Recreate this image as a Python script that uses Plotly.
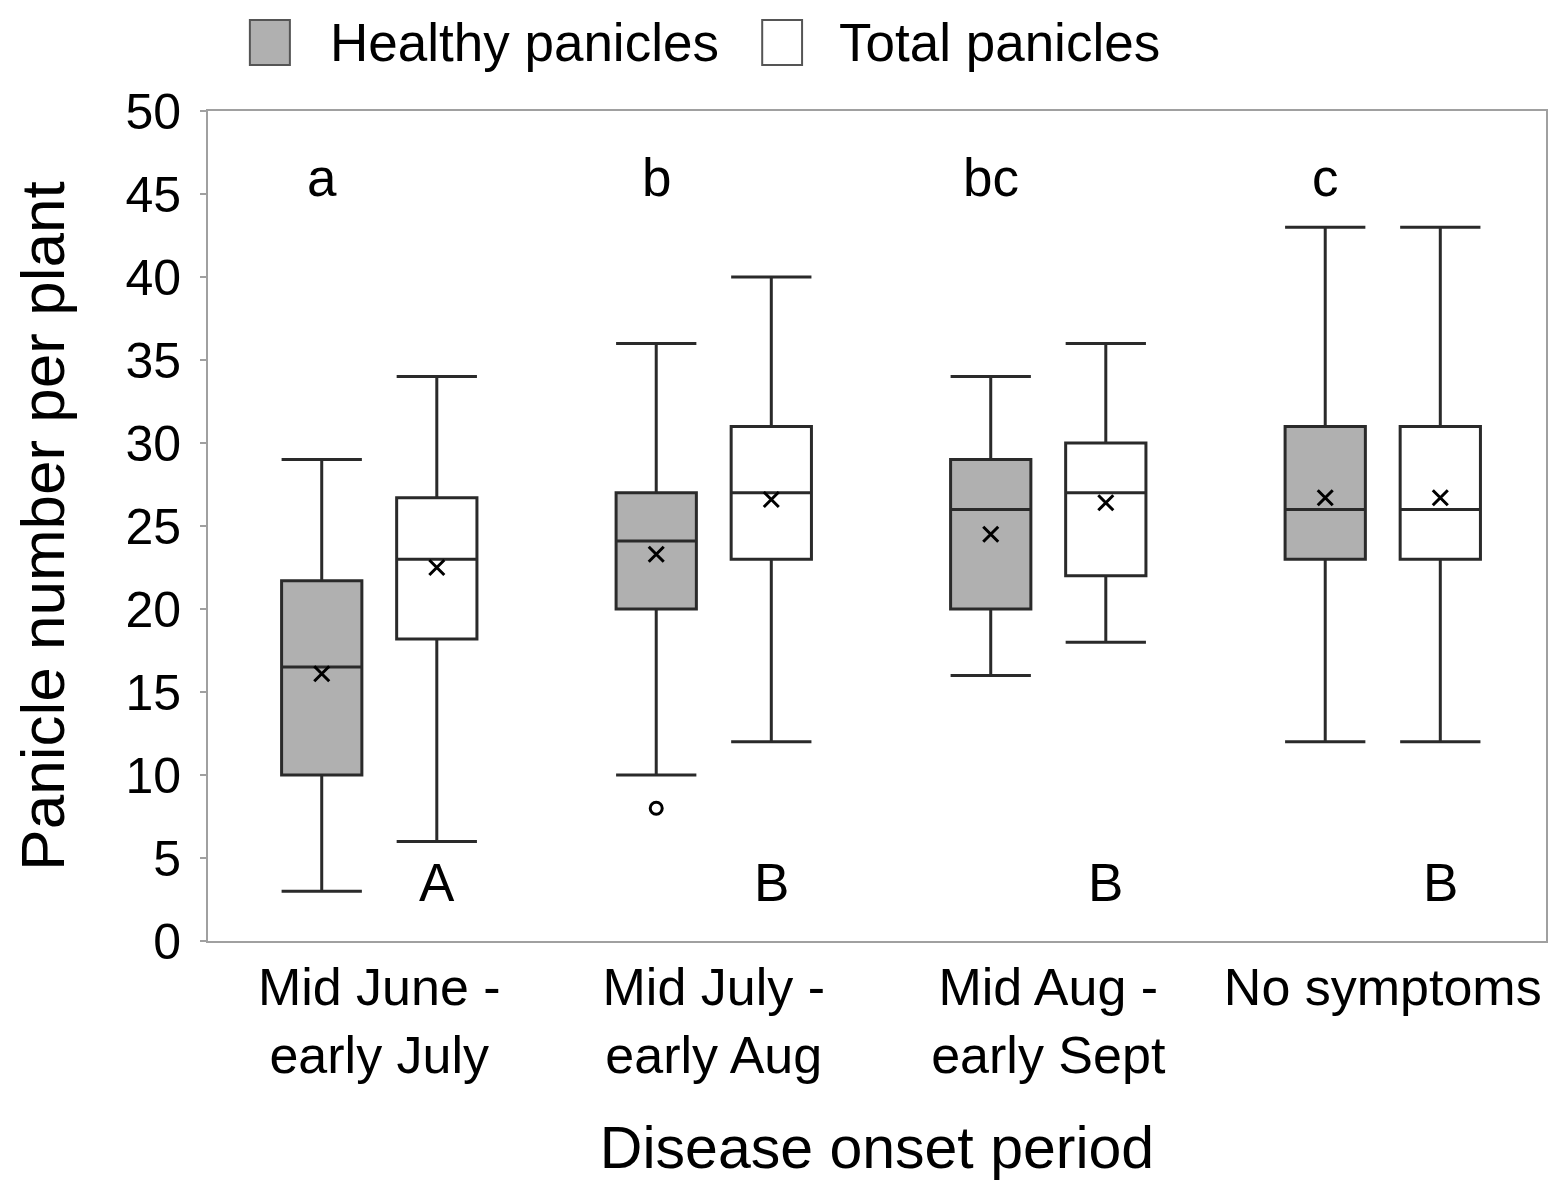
import plotly.graph_objects as go

categories = ["Mid June -<br>early July", "Mid July -<br>early Aug", "Mid Aug -<br>early Sept", "No symptoms"]
series_names = ["Healthy panicles", "Total panicles"]

# Healthy panicles
h_low = [3, 10, 16, 12]
h_q1 = [10, 20, 20, 23]
h_med = [16.5, 24.1, 26, 26]
h_q3 = [21.7, 27, 29, 31]
h_up = [29, 36, 34, 43]
h_mean = [16.1, 23.3, 24.5, 26.7]
h_outlier_cat = [1]
h_outlier_val = [8]

# Total panicles
t_low = [6, 12, 18, 12]
t_q1 = [18.2, 23, 22, 23]
t_med = [23, 27, 27, 26]
t_q3 = [26.7, 31, 30, 31]
t_up = [34, 40, 36, 43]
t_mean = [22.5, 26.6, 26.4, 26.7]

upper_letters = ["a", "b", "bc", "c"]
lower_letters = ["A", "B", "B", "B"]
y_ticks = [0, 5, 10, 15, 20, 25, 30, 35, 40, 45, 50]

OFF = 0.172
W = 0.24
idx = list(range(len(categories)))
hx = [i - OFF for i in idx]
tx = [i + OFF for i in idx]

FONT = "Liberation Sans, Arial, Helvetica, sans-serif"
HFILL = "#b0b0b0"
LINE = "#2a2a2a"

fig = go.Figure()
fig.add_trace(go.Box(
    name=series_names[0], x=hx, q1=h_q1, median=h_med, q3=h_q3,
    lowerfence=h_low, upperfence=h_up, width=W, whiskerwidth=1,
    fillcolor=HFILL, line=dict(color=LINE, width=3),
    boxpoints=False, showlegend=False,
))
fig.add_trace(go.Box(
    name=series_names[1], x=tx, q1=t_q1, median=t_med, q3=t_q3,
    lowerfence=t_low, upperfence=t_up, width=W, whiskerwidth=1,
    fillcolor="white", line=dict(color=LINE, width=3),
    boxpoints=False, showlegend=False,
))
fig.add_trace(go.Scatter(
    x=hx + tx, y=h_mean + t_mean, mode="markers",
    marker=dict(symbol="x-thin-open", size=15, color="black", line=dict(color="black", width=3)),
    showlegend=False, hoverinfo="skip",
))
fig.add_trace(go.Scatter(
    x=[i - OFF for i in h_outlier_cat], y=h_outlier_val, mode="markers",
    marker=dict(symbol="circle-open", size=12, color="black", line=dict(color="black", width=3)),
    showlegend=False, hoverinfo="skip",
))

for i, s in enumerate(upper_letters):
    fig.add_annotation(x=i - OFF, y=46, text=s, showarrow=False,
                       font=dict(size=53, color="black", family=FONT))
for i, s in enumerate(lower_letters):
    fig.add_annotation(x=i + OFF, y=3.5, text=s, showarrow=False,
                       font=dict(size=53, color="black", family=FONT))

# custom legend (swatches + labels) above the plot area
leg_items = [
    (0.0313, 0.0612, 0.0896, HFILL, series_names[0]),
    (0.4142, 0.4440, 0.4701, "white", series_names[1]),
]
for x0, x1, xt, fc, label in leg_items:
    fig.add_shape(type="rect", xref="paper", yref="paper", x0=x0, x1=x1,
                  y0=1.0554, y1=1.1096, fillcolor=fc,
                  line=dict(color="#555555", width=2))
    fig.add_annotation(xref="paper", yref="paper", x=xt, y=1.0831, xanchor="left",
                       yanchor="middle", text=label, showarrow=False,
                       font=dict(size=53, color="black", family=FONT))

fig.update_layout(
    width=1551, height=1175,
    margin=dict(l=200, r=11, t=103, b=242),
    paper_bgcolor="white", plot_bgcolor="white",
    font=dict(family=FONT, size=50, color="black"),
    showlegend=False,
    xaxis=dict(
        range=[-0.512, 3.488], tickmode="array", tickvals=idx, ticktext=categories,
        showgrid=False, zeroline=False, showline=True, mirror=True,
        linecolor="#a0a0a0", linewidth=2, ticks="",
        tickfont=dict(size=52),
        title=dict(text="Disease onset period", font=dict(size=59), standoff=44),
    ),
    yaxis=dict(
        range=[0, 50], tickvals=y_ticks,
        showgrid=False, zeroline=False, showline=True, mirror=True,
        linecolor="#a0a0a0", linewidth=2, ticks="outside", ticklen=6,
        tickcolor="#a0a0a0", tickwidth=2, tickfont=dict(size=50),
        ticklabelstandoff=9,
        title=dict(text="Panicle number per plant", font=dict(size=62), standoff=50),
    ),
)

fig.write_html("out.html")
